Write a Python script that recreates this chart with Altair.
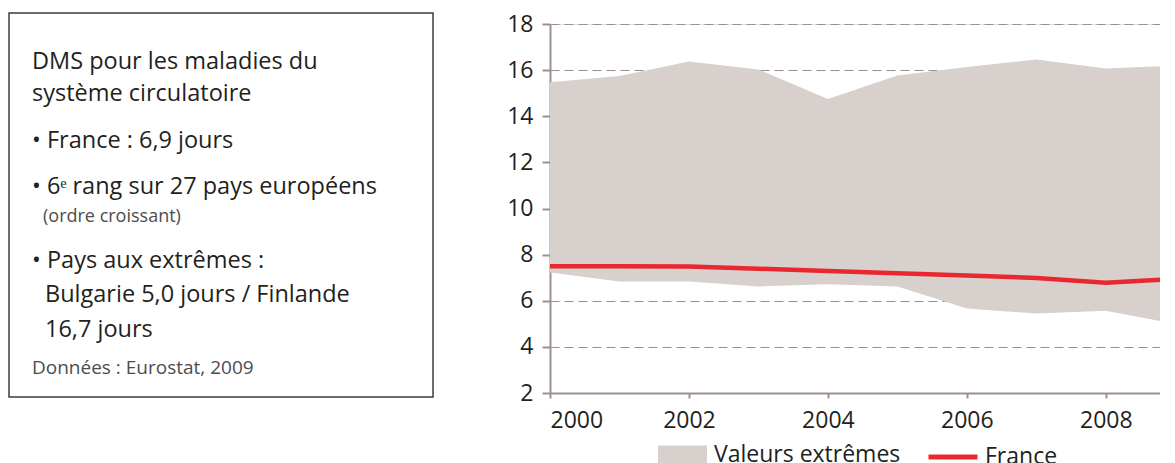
import altair as alt
import pandas as pd

# ---- data ----
years = [2000, 2001, 2002, 2003, 2004, 2005, 2006, 2007, 2008, 2009]
max_vals = [15.47, 15.75, 16.37, 16.03, 14.75, 15.77, 16.14, 16.46, 16.07, 16.2]
min_vals = [7.22, 6.84, 6.84, 6.62, 6.72, 6.62, 5.66, 5.45, 5.57, 5.0]
france = [7.5, 7.5, 7.49, 7.39, 7.29, 7.19, 7.09, 6.99, 6.78, 6.95]

band_label = "Valeurs extrêmes"
line_label = "France"

y_ticks = [2, 4, 6, 8, 10, 12, 14, 16, 18]
x_ticks = [2000, 2002, 2004, 2006, 2008]

box_lines = [
    "DMS pour les maladies du",
    "système circulatoire",
    "• France : 6,9 jours",
    "• 6ᵉ rang sur 27 pays européens",
    "(ordre croissant)",
    "• Pays aux extrêmes :",
    "Bulgarie 5,0 jours / Finlande",
    "16,7 jours",
    "Données : Eurostat, 2009",
]

# ---- styling / layout (not data) ----
FONT = "Open Sans"
TXT = "#231F20"
GRAY_AXIS = "#9C918E"
AREA_COL = "#D7D0CD"
RED = "#E8282E"
W, H = 610, 369

box_layout = [
    (-518, 44.5, 23.5, TXT),
    (-518, 77, 23.5, TXT),
    (-518, 123.5, 23.5, TXT),
    (-518, 169.5, 23.5, TXT),
    (-507, 197.5, 18, "#4D4D4D"),
    (-518, 243.5, 23.5, TXT),
    (-505, 278, 23.5, TXT),
    (-505, 313, 23.5, TXT),
    (-518, 349.5, 19, "#4D4D4D"),
]

df = pd.DataFrame({"year": years, "max": max_vals, "min": min_vals, "france": france})

x_enc = alt.X(
    "year:Q",
    scale=alt.Scale(domain=[2000, 2008.78], nice=False, zero=False),
    axis=alt.Axis(values=x_ticks, format="d", title=None, grid=False,
                  tickSize=5, labelPadding=11, labelFontSize=23, labelFont=FONT),
)
y_scale = alt.Scale(domain=[2, 18], nice=False, zero=False)
y_axis = alt.Axis(values=y_ticks, title=None, grid=True, tickSize=8, labelPadding=9,
                  labelFontSize=23, labelFont=FONT)

base = alt.Chart(df)

area = base.transform_calculate(serie=f"'{band_label}'").mark_area(
    clip=True, opacity=1
).encode(
    x=x_enc,
    y=alt.Y("max:Q", scale=y_scale, axis=y_axis),
    y2="min:Q",
    fill=alt.Fill(
        "serie:N",
        scale=alt.Scale(domain=[band_label], range=[AREA_COL]),
        legend=alt.Legend(
            orient="none", legendX=108, legendY=406, title=None,
            symbolType="M-1,-0.37L1,-0.37L1,0.37L-1,0.37Z", symbolSize=2401,
            symbolStrokeWidth=0, symbolOpacity=1, labelOffset=7, padding=0,
        ),
    ),
)

line = base.transform_calculate(serie2=f"'{line_label}'").mark_line(
    clip=True, strokeWidth=4.5
).encode(
    x=x_enc,
    y=alt.Y("france:Q", scale=y_scale, axis=y_axis),
    stroke=alt.Stroke(
        "serie2:N",
        scale=alt.Scale(domain=[line_label], range=[RED]),
        legend=alt.Legend(
            orient="none", legendX=376, legendY=406, title=None,
            symbolType="stroke", symbolSize=2401, symbolStrokeWidth=5,
            labelOffset=5, padding=0,
        ),
    ),
)

one = pd.DataFrame({"k": [0]})
box = alt.Chart(one).mark_rect(
    fill=None, stroke="#3C3C3C", strokeWidth=1.5
).encode(
    x=alt.value(-541), x2=alt.value(-117), y=alt.value(-11), y2=alt.value(373)
)

texts = []
for t, (tx, ty, ts, tc) in zip(box_lines, box_layout):
    texts.append(
        alt.Chart(one).mark_text(
            align="left", baseline="alphabetic", font=FONT, fontSize=ts, color=tc
        ).encode(x=alt.value(tx), y=alt.value(ty), text=alt.value(t))
    )

chart = alt.layer(area, line, box, *texts).properties(
    width=W, height=H, padding={"left": 0, "top": 4, "right": 0, "bottom": 0}
).configure_view(strokeWidth=0).configure(background="white").configure_axis(
    labelColor=TXT,
    domainColor=GRAY_AXIS, domainWidth=2, tickColor=GRAY_AXIS, tickWidth=2,
    gridDash=[9, 5], gridColor="#9A8F8C", gridWidth=1.2, zindex=1,
).configure_legend(
    labelFont=FONT, labelFontSize=23, labelColor=TXT, labelLimit=400,
)

chart.save("out.html", embed_options={"renderer": "svg", "actions": False})
